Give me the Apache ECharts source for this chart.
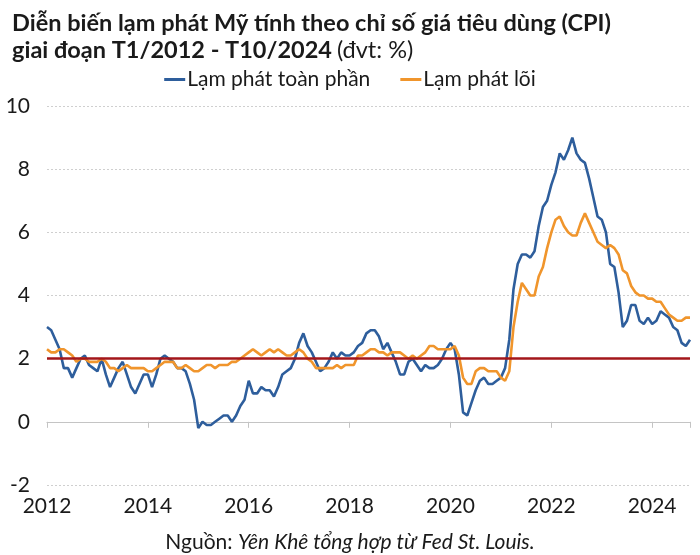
<!DOCTYPE html>
<html>
<head>
<meta charset="utf-8">
<script src="https://cdn.jsdelivr.net/npm/echarts@6/dist/echarts.min.js"></script>
<style>
html,body{margin:0;padding:0;background:#fff;}
#chart{width:700px;height:555px;}
</style>
</head>
<body>
<div id="chart"></div>
<script>
// Monthly year-over-year inflation, Jan 2012 - Oct 2024 (%)
const startYear = 2012;
const xTickLabels = ['2012', '2014', '2016', '2018', '2020', '2022', '2024'];
const yTickLabels = [-2, 0, 2, 4, 6, 8, 10];
const seriesNames = ['Lạm phát toàn phần', 'Lạm phát lõi'];
const targetRate = 2;

const headline = [
  // 2012
  3.0, 2.9, 2.6, 2.3, 1.7, 1.7, 1.4, 1.7, 2.0, 2.1, 1.8, 1.7,
  // 2013
  1.6, 2.0, 1.5, 1.1, 1.4, 1.7, 1.9, 1.5, 1.1, 0.9, 1.2, 1.5,
  // 2014
  1.5, 1.1, 1.5, 2.0, 2.1, 2.0, 1.9, 1.7, 1.7, 1.6, 1.2, 0.7,
  // 2015
  -0.2, 0.0, -0.1, -0.1, 0.0, 0.1, 0.2, 0.2, 0.0, 0.2, 0.5, 0.7,
  // 2016
  1.3, 0.9, 0.9, 1.1, 1.0, 1.0, 0.8, 1.1, 1.5, 1.6, 1.7, 2.0,
  // 2017
  2.5, 2.8, 2.4, 2.2, 1.9, 1.6, 1.7, 1.9, 2.2, 2.0, 2.2, 2.1,
  // 2018
  2.1, 2.2, 2.4, 2.5, 2.8, 2.9, 2.9, 2.7, 2.3, 2.5, 2.2, 1.9,
  // 2019
  1.5, 1.5, 1.9, 2.0, 1.8, 1.6, 1.8, 1.7, 1.7, 1.8, 2.0, 2.3,
  // 2020
  2.5, 2.3, 1.5, 0.3, 0.2, 0.6, 1.0, 1.3, 1.4, 1.2, 1.2, 1.3,
  // 2021
  1.4, 1.7, 2.6, 4.2, 5.0, 5.3, 5.3, 5.2, 5.4, 6.2, 6.8, 7.0,
  // 2022
  7.5, 7.9, 8.5, 8.3, 8.6, 9.0, 8.5, 8.3, 8.2, 7.7, 7.1, 6.5,
  // 2023
  6.4, 6.0, 5.0, 4.9, 4.1, 3.0, 3.2, 3.7, 3.7, 3.2, 3.1, 3.3,
  // 2024
  3.1, 3.2, 3.5, 3.4, 3.3, 3.0, 2.9, 2.5, 2.4, 2.6
];

const core = [
  // 2012
  2.3, 2.2, 2.2, 2.3, 2.3, 2.2, 2.1, 1.9, 2.0, 2.0, 1.9, 1.9,
  // 2013
  1.9, 2.0, 1.9, 1.7, 1.7, 1.6, 1.7, 1.8, 1.7, 1.7, 1.7, 1.7,
  // 2014
  1.6, 1.6, 1.7, 1.8, 1.9, 1.9, 1.9, 1.7, 1.7, 1.8, 1.7, 1.6,
  // 2015
  1.6, 1.7, 1.8, 1.8, 1.7, 1.8, 1.8, 1.8, 1.9, 1.9, 2.0, 2.1,
  // 2016
  2.2, 2.3, 2.2, 2.1, 2.2, 2.3, 2.2, 2.3, 2.2, 2.1, 2.1, 2.2,
  // 2017
  2.3, 2.2, 2.0, 1.9, 1.7, 1.7, 1.7, 1.7, 1.7, 1.8, 1.7, 1.8,
  // 2018
  1.8, 1.8, 2.1, 2.1, 2.2, 2.3, 2.3, 2.2, 2.2, 2.1, 2.2, 2.2,
  // 2019
  2.2, 2.1, 2.0, 2.1, 2.0, 2.1, 2.2, 2.4, 2.4, 2.3, 2.3, 2.3,
  // 2020
  2.3, 2.4, 2.1, 1.4, 1.2, 1.2, 1.6, 1.7, 1.7, 1.6, 1.6, 1.6,
  // 2021
  1.4, 1.3, 1.6, 3.0, 3.8, 4.4, 4.2, 4.0, 4.0, 4.6, 4.9, 5.5,
  // 2022
  6.0, 6.4, 6.5, 6.2, 6.0, 5.9, 5.9, 6.3, 6.6, 6.3, 6.0, 5.7,
  // 2023
  5.6, 5.5, 5.6, 5.5, 5.3, 4.8, 4.7, 4.3, 4.1, 4.0, 4.0, 3.9,
  // 2024
  3.9, 3.8, 3.8, 3.6, 3.4, 3.3, 3.2, 3.2, 3.3, 3.3
];

const toPairs = arr => arr.map((v, i) => [startYear + i / 12, v]);
const xMax = startYear + (headline.length - 1) / 12;

const FONT = 'Lato';
const TXT = '#1a1a1a';

const chart = echarts.init(document.getElementById('chart'), null, { renderer: 'canvas' });
chart.setOption({
  animation: false,
  backgroundColor: '#ffffff',
  title: [
    {
      left: 7, top: 5,
      text: '{b|Diễn biến lạm phát Mỹ tính theo chỉ số giá tiêu dùng (CPI)}\n{b|giai đoạn T1/2012 - T10/2024} {n|(đvt: %)}',
      textStyle: {
        rich: {
          b: { fontFamily: FONT, fontWeight: 'bold', fontSize: 23.5, color: TXT, lineHeight: 27 },
          n: { fontFamily: FONT, fontWeight: 'normal', fontSize: 23.5, color: TXT, lineHeight: 27 }
        }
      }
    },
    {
      left: 'center', top: 527,
      text: '{n|Nguồn: }{i|Yên Khê tổng hợp từ Fed St. Louis.}',
      textStyle: {
        fontWeight: 'normal',
        rich: {
          n: { fontFamily: FONT, fontSize: 21, fontWeight: 'normal', color: TXT },
          i: { fontFamily: FONT, fontSize: 21, fontWeight: 'normal', fontStyle: 'italic', color: TXT }
        }
      }
    }
  ],
  legend: {
    top: 64, left: 'center',
    icon: 'rect', itemWidth: 21, itemHeight: 3, itemGap: 30,
    textStyle: { fontFamily: FONT, fontSize: 21, color: TXT, padding: [0, 0, 0, -3] },
    data: seriesNames
  },
  grid: { left: 47, right: 10, top: 106, bottom: 70, containLabel: false },
  xAxis: [
    {
      type: 'value', min: startYear, max: xMax, interval: 2,
      axisLine: { show: false, onZero: false },
      axisTick: { show: false },
      splitLine: { show: false },
      axisLabel: {
        fontFamily: FONT, fontSize: 21, color: TXT, margin: 11,
        showMaxLabel: false,
        formatter: v => xTickLabels.indexOf(String(Math.round(v))) >= 0 && Math.abs(v - Math.round(v)) < 1e-6 ? String(Math.round(v)) : ''
      }
    },
    {
      type: 'value', min: startYear, max: xMax, interval: 2, position: 'top',
      axisLine: { show: true, onZero: true, lineStyle: { color: '#c4c4c4', width: 1.2 } },
      axisTick: { show: true, inside: true, length: 6, lineStyle: { color: '#c4c4c4' } },
      axisLabel: { show: false },
      splitLine: { show: false }
    }
  ],
  yAxis: {
    type: 'value', min: yTickLabels[0], max: yTickLabels[yTickLabels.length - 1], interval: 2,
    axisLine: { show: false }, axisTick: { show: false },
    splitLine: { lineStyle: { color: '#cfcfcf', type: [2, 2], width: 1 } },
    axisLabel: { fontFamily: FONT, fontSize: 21, color: TXT, margin: 17 }
  },
  series: [
    {
      name: seriesNames[0], type: 'line', xAxisIndex: 0,
      data: toPairs(headline), showSymbol: false, symbol: 'none',
      lineStyle: { color: '#2e5e9c', width: 2.6 }, itemStyle: { color: '#2e5e9c' }
    },
    {
      name: seriesNames[1], type: 'line', xAxisIndex: 0,
      data: toPairs(core), showSymbol: false, symbol: 'none',
      lineStyle: { color: '#f0952c', width: 2.6 }, itemStyle: { color: '#f0952c' },
      markLine: {
        silent: true, symbol: 'none', label: { show: false },
        lineStyle: { color: '#a3161a', width: 2.6, type: 'solid' },
        data: [{ yAxis: targetRate }]
      }
    }
  ]
});
</script>
</body>
</html>
